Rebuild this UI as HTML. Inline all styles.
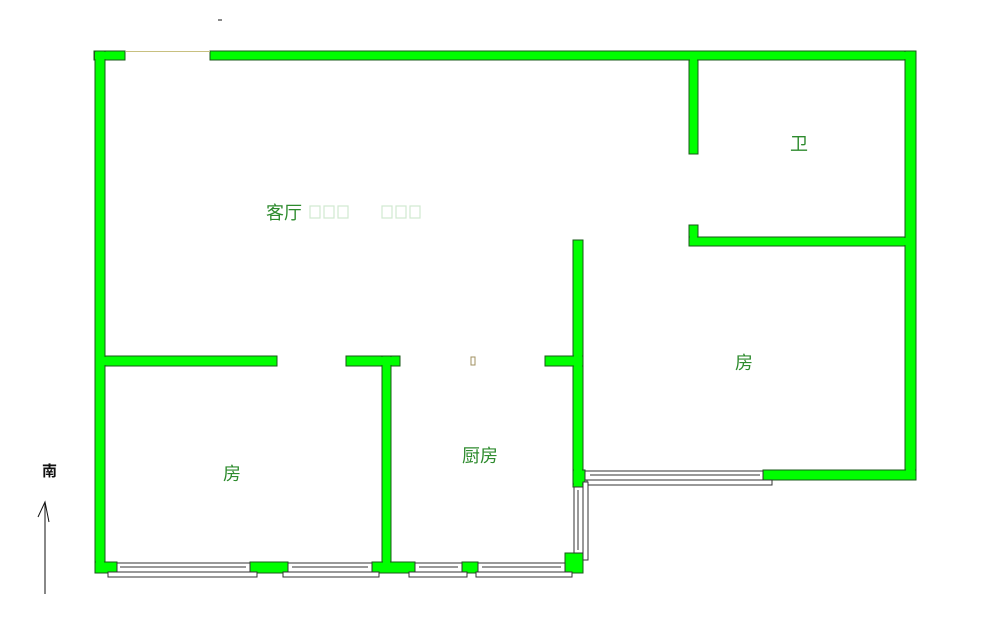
<!DOCTYPE html>
<html><head><style>body{margin:0;background:#fff}svg{display:block}</style></head><body>
<svg width="1000" height="617" xmlns="http://www.w3.org/2000/svg">
<defs>
<g id="walls">
<rect x="94" y="51" width="31" height="9"/>
<rect x="210" y="51" width="706" height="9"/>
<rect x="95" y="51" width="10" height="522"/>
<rect x="905" y="51" width="11" height="429"/>
<rect x="689" y="60" width="9" height="94"/>
<rect x="689" y="225" width="9" height="21"/>
<rect x="689" y="237" width="216" height="9"/>
<rect x="573" y="240" width="10" height="247"/>
<rect x="105" y="356" width="172" height="10"/>
<rect x="346" y="356" width="54" height="10"/>
<rect x="545" y="356" width="38" height="10"/>
<rect x="382" y="356" width="9" height="208"/>
<rect x="763" y="470" width="153" height="10"/>
<rect x="95" y="562" width="22" height="11"/>
<rect x="250" y="562" width="38" height="11"/>
<rect x="372" y="562" width="43" height="11"/>
<rect x="462" y="562" width="16" height="11"/>
<rect x="565" y="553" width="18" height="20"/>
<rect x="573" y="470" width="12" height="14"/>
</g>
</defs>
<g fill="#00ff00" stroke="#1a5a1a" stroke-width="1">
<use href="#walls"/>
</g>
<g fill="#00ff00" stroke="#00ff00" stroke-width="0">
<rect x="95" y="52" width="29" height="7"/>
<rect x="211" y="52" width="704" height="7"/>
<rect x="96" y="52" width="8" height="520"/>
<rect x="906" y="52" width="9" height="427"/>
<rect x="690" y="52" width="7" height="101"/>
<rect x="690" y="226" width="7" height="19"/>
<rect x="690" y="238" width="224" height="7"/>
<rect x="574" y="241" width="8" height="245"/>
<rect x="96" y="357" width="180" height="8"/>
<rect x="347" y="357" width="52" height="8"/>
<rect x="546" y="357" width="36" height="8"/>
<rect x="383" y="357" width="7" height="214"/>
<rect x="764" y="471" width="151" height="8"/>
<rect x="96" y="563" width="20" height="9"/>
<rect x="251" y="563" width="36" height="9"/>
<rect x="373" y="563" width="41" height="9"/>
<rect x="463" y="563" width="14" height="9"/>
<rect x="566" y="554" width="16" height="18"/>
<rect x="574" y="471" width="10" height="12"/>
</g>
<g fill="#fff" stroke="#333" stroke-width="1">
<rect x="117" y="563" width="133" height="9"/>
<line x1="120" y1="567" x2="246" y2="567"/>
<rect x="288" y="563" width="84" height="9"/>
<line x1="292" y1="567" x2="368" y2="567"/>
<rect x="415" y="563" width="47" height="9"/>
<line x1="419" y1="567" x2="458" y2="567"/>
<rect x="478" y="563" width="87" height="9"/>
<line x1="482" y1="567" x2="561" y2="567"/>
<rect x="108" y="572" width="149" height="5"/>
<rect x="283" y="572" width="96" height="5"/>
<rect x="409" y="572" width="58" height="5"/>
<rect x="476" y="572" width="96" height="5"/>
<rect x="585" y="471" width="178" height="9"/>
<line x1="590" y1="475" x2="760" y2="475"/>
<rect x="587" y="480" width="185" height="5"/>
<rect x="574" y="487" width="9" height="66"/>
<line x1="578" y1="490" x2="578" y2="550"/>
<rect x="583" y="482" width="5" height="78"/>
</g>
<rect x="126" y="51" width="84" height="1" fill="#c8c080"/>
<g font-family="'Liberation Sans','Noto Sans CJK SC',sans-serif" fill="#2e8b2e" font-size="18">
<text x="266" y="219">客厅</text>
<text x="790" y="150">卫</text>
<text x="735" y="369">房</text>
<text x="223" y="480">房</text>
<text x="462" y="462">厨房</text>
</g>
<g fill="none" stroke="#d0e8d0" stroke-width="1.2">
<rect x="310" y="206" width="10" height="12"/><rect x="324" y="206" width="10" height="12"/><rect x="338" y="206" width="10" height="12"/>
<rect x="382" y="206" width="10" height="12"/><rect x="396" y="206" width="10" height="12"/><rect x="410" y="206" width="10" height="12"/>
</g>
<rect x="471" y="357" width="4" height="8" fill="none" stroke="#a09060"/>
<text x="42" y="476" font-family="'Liberation Sans','Noto Sans CJK SC',sans-serif" font-size="15" font-weight="bold" fill="#111">南</text>
<g stroke="#111" stroke-width="1" fill="none">
<line x1="45" y1="502" x2="45" y2="594"/>
<polyline points="38,517 45,502 49,522"/>
<line x1="218" y1="20" x2="222" y2="20"/>
</g>
</svg>
</body></html>
